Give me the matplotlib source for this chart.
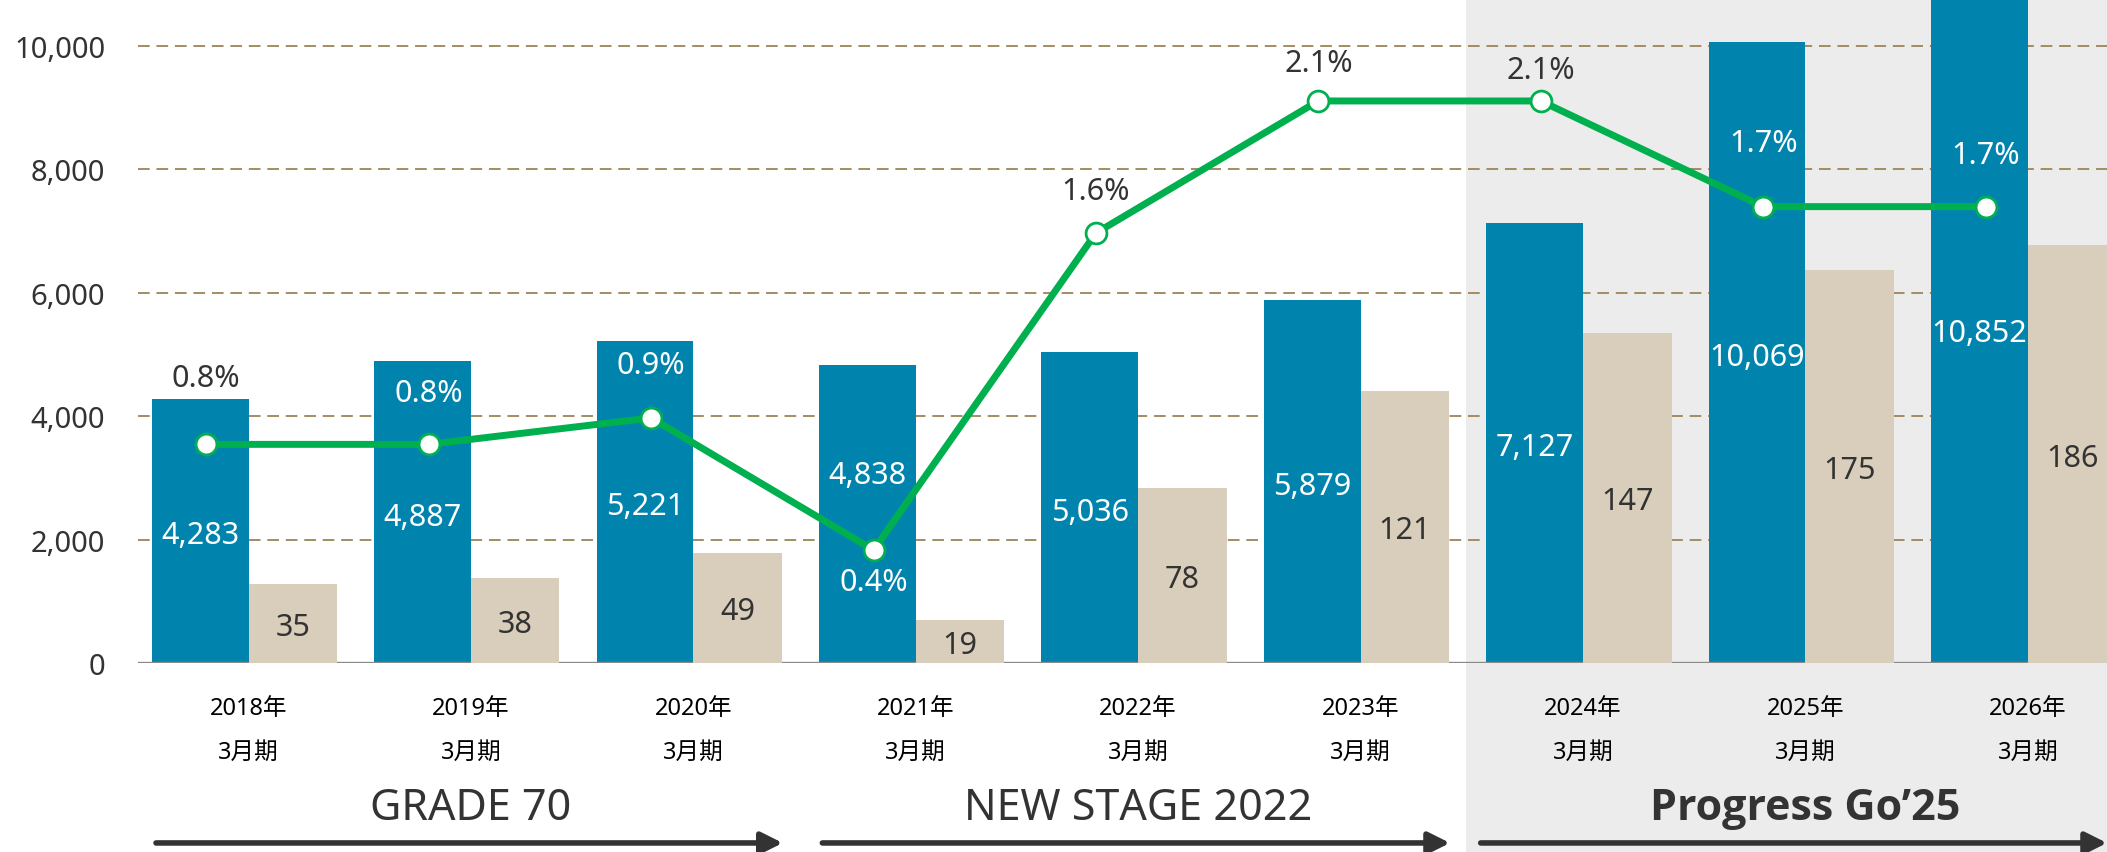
import numpy as np
import matplotlib.pyplot as plt
from matplotlib.patches import Rectangle
from matplotlib.transforms import blended_transform_factory

plt.rcParams['font.family'] = ['Noto Sans', 'Noto Sans CJK JP', 'DejaVu Sans']

# DATA
years   = ['2018年', '2019年', '2020年', '2021年', '2022年', '2023年', '2024年', '2025年', '2026年']
period  = '3月期'
sales   = [4283, 4887, 5221, 4838, 5036, 5879, 7127, 10069, 10852]
profit  = [35, 38, 49, 19, 78, 121, 147, 175, 186]
ratio   = [0.8, 0.8, 0.9, 0.4, 1.6, 2.1, 2.1, 1.7, 1.7]
yticks  = [0, 2000, 4000, 6000, 8000, 10000]
phases  = ['GRADE 70', 'NEW STAGE 2022', 'Progress Go’25']
phase_idx = [(0, 2), (3, 5), (6, 8)]

# STYLE
BLUE  = '#0084ae'
BEIGE = '#d9cebb'
GREEN = '#00b04f'
DARK  = '#333333'
GRID  = '#a28c62'
BG    = '#ececec'

W_BLUE, W_BEIGE = 0.435, 0.398
LINE_DX = -0.19
# label offsets (points) and colours for the ratio labels
pct_dy  = [48, 37, 38, -23, 30, 27, 22, 46, 37]
pct_col = [DARK, 'white', 'white', 'white', DARK, DARK, DARK, 'white', 'white']
sales_dy = [0, 0, 0, 31, 0, 0, 0, 0, 0]

fig = plt.figure(figsize=(21.07, 8.53), dpi=100)
ax = fig.add_axes([0.0657, 0.2216, 1 - 0.0657, 1 - 0.2216])
ax2 = ax.twinx()
ax3 = ax.twinx()

x = np.arange(len(years))
YTOP = 10763
ax.set_xlim(-0.495, 8.356)
ax.set_ylim(0, YTOP)
ax2.set_ylim(0, YTOP / 36.4)
ax3.set_ylim(-0.0276, 2.486)

# gray background for the current plan
blend = blended_transform_factory(ax.transData, fig.transFigure)
ax.add_patch(Rectangle((5.474, 0), 10, 1, transform=blend, facecolor=BG,
                       edgecolor='none', clip_on=False, zorder=0))

# grid lines + baseline
for t in yticks[1:]:
    ax.axhline(t, color=GRID, lw=1.4, ls=(0, (6, 3.5)), zorder=1)
ax.axhline(0, color='#8a8a8a', lw=2.4, zorder=5)

# bars
ax.bar(x, sales, width=-W_BLUE, align='edge', color=BLUE, zorder=2)
ax2.bar(x, profit, width=W_BEIGE, align='edge', color=BEIGE, zorder=2)

for i, v in enumerate(sales):
    ax.annotate(f'{v:,}', (x[i] - W_BLUE / 2, v / 2 - 70), xytext=(0, sales_dy[i]),
                textcoords='offset points', ha='center', va='center',
                color='white', fontsize=22, zorder=6)
for i, v in enumerate(profit):
    ax2.annotate(f'{v}', (x[i] + W_BEIGE / 2, v / 2 - 1.5), ha='center', va='center',
                 color=DARK, fontsize=22, zorder=6)

# ratio line
ax3.plot(x + LINE_DX, ratio, color=GREEN, lw=5, marker='o', markersize=15,
         markerfacecolor='white', markeredgecolor=GREEN, markeredgewidth=2, zorder=4)
for i, v in enumerate(ratio):
    ax3.annotate(f'{v:.1f}%', (x[i] + LINE_DX, v), xytext=(0, pct_dy[i]),
                 textcoords='offset points', ha='center', va='center',
                 color=pct_col[i], fontsize=22)

# axes cosmetics
for a in (ax, ax2, ax3):
    for s in a.spines.values():
        s.set_visible(False)
ax2.set_yticks([])
ax3.set_yticks([])
ax.set_yticks(yticks)
ax.set_yticklabels([f'{t:,}' for t in yticks], fontsize=21, color=DARK)
ax.set_xticks(x)
ax.set_xticklabels([y + '\n' + period for y in years], fontsize=17, color='black',
                   linespacing=2.1)
ax.tick_params(axis='both', length=0)
ax.tick_params(axis='y', pad=24)
ax.tick_params(axis='x', pad=24)

# phase labels and arrows
for name, (a, b) in zip(phases, phase_idx):
    if name.startswith('Progress'):
        fam, weight = ['Open Sans', 'Lato', 'DejaVu Sans'], 'bold'
    else:
        fam, weight = ['Noto Sans', 'DejaVu Sans'], 'normal'
    ax.text((a + b) / 2, 0.0516, name, transform=blend, ha='center', va='center',
            fontsize=31, color=DARK, fontweight=weight, family=fam)
    x0 = a - 0.42 if a > 0 else a - 0.416
    x1 = min(b + 0.402, 8.356)
    if a == 6:
        x0 = a - 0.46
    ax.annotate('', xy=(x1, 0.0106), xytext=(x0, 0.0106), xycoords=blend,
                textcoords=blend, annotation_clip=False,
                arrowprops=dict(arrowstyle='-|>', lw=4, color=DARK,
                                mutation_scale=32, shrinkA=0, shrinkB=0))

fig.savefig('out.png', dpi=100)
